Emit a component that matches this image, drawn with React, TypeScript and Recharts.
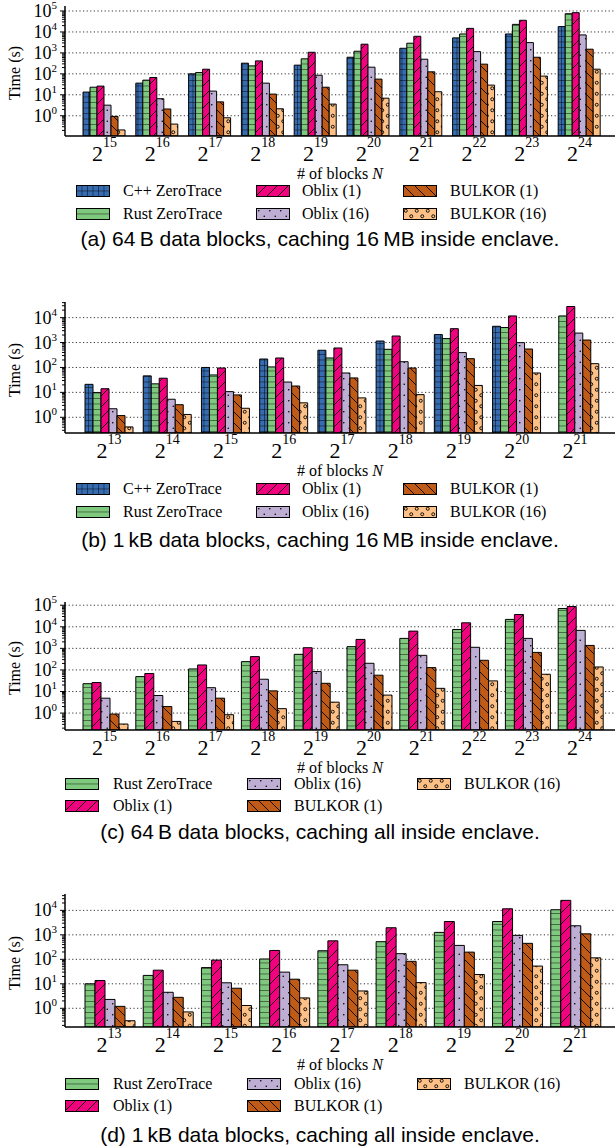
import React from 'react';
import { BarChart, Bar, XAxis, YAxis, CartesianGrid } from 'recharts';

const SERIF = '"Liberation Serif", "Times New Roman", serif';
const SANS = '"Liberation Sans", Arial, Helvetica, sans-serif';

// (a) 64 B blocks, 16 MB cache
const blocksA = [15, 16, 17, 18, 19, 20, 21, 22, 23, 24];
const cppA = [13.5, 36, 100, 323, 260, 620, 1660, 5200, 8000, 18000];
const rustA = [23, 50, 115, 240, 520, 1200, 2900, 8000, 23000, 74000];
const oblix1A = [26, 67, 166, 415, 1070, 2600, 6200, 14800, 36000, 83000];
const oblix16A = [3.2, 6.5, 15, 36, 86, 208, 500, 1150, 3100, 7200];
const bulkor1A = [0.93, 2.1, 4.6, 10.8, 23, 56, 125, 290, 620, 1500];
const bulkor16A = [0.21, 0.4, 0.8, 2.15, 3.6, 6.9, 14, 29, 78, 167];

// (b) 1 kB blocks, 16 MB cache
const blocksB = [13, 14, 15, 16, 17, 18, 19, 20, 21];
const cppB = [21, 46, 100, 218, 490, 1150, 2090, 4500, null];
const rustB = [9.8, 22, 50, 105, 240, 535, 1440, 4000, 11700];
const oblix1B = [14, 37, 95, 240, 605, 1830, 3600, 11700, 28000];
const oblix16B = [2.2, 5.3, 10.7, 26, 60, 170, 395, 990, 2400];
const bulkor1B = [1.17, 3.2, 7.9, 18, 38, 95, 225, 550, 1260];
const bulkor16B = [0.41, 1.3, 2.3, 3.8, 6.0, 8.1, 19, 60, 142];

// (c) 64 B blocks, all cached
const blocksC = [15, 16, 17, 18, 19, 20, 21, 22, 23, 24];
const rustC = [23, 49, 111, 242, 530, 1200, 2900, 7500, 22000, 70000];
const oblix1C = [26, 68, 170, 415, 1070, 2600, 6300, 15300, 37000, 87000];
const oblix16C = [4.9, 6.5, 15, 37, 84, 203, 475, 1120, 2900, 6800];
const bulkor1C = [0.9, 2.0, 4.9, 10.7, 24, 57, 128, 280, 650, 1370];
const bulkor16C = [0.31, 0.41, 0.84, 1.6, 3.2, 6.8, 14, 31, 63, 137];

// (d) 1 kB blocks, all cached
const blocksD = [13, 14, 15, 16, 17, 18, 19, 20, 21];
const rustD = [10, 22, 46, 103, 224, 525, 1260, 3500, 10600];
const oblix1D = [13.6, 36, 93, 230, 570, 1950, 3500, 11600, 25600];
const oblix16D = [2.3, 4.5, 11, 30, 60, 170, 370, 950, 2350];
const bulkor1D = [1.2, 2.8, 6.6, 15.4, 36, 83, 197, 450, 1100];
const bulkor16D = [0.31, 0.71, 1.3, 2.65, 5.1, 11.2, 24, 53, 115];

const majorsBig = [0, 1, 2, 3, 4, 5];
const majorsSmall = [0, 1, 2, 3, 4];

const NAMES: Record<string, string> = {
    cpp: 'C++ ZeroTrace',
    rust: 'Rust ZeroTrace',
    oblix1: 'Oblix (1)',
    oblix16: 'Oblix (16)',
    bulkor1: 'BULKOR (1)',
    bulkor16: 'BULKOR (16)',
};

const toRows = (blocks: number[], cols: Record<string, (number | null)[]>) =>
    blocks.map((n, i) => {
        const row: any = { n };
        Object.keys(cols).forEach(k => { row[k] = cols[k][i]; });
        return row;
    });

// log ticks: majors plus 2..9 minors that fall inside the domain
const logTicks = (domain: number[], majors: number[]) => {
    const out: number[] = [];
    for (let e = majors[0] - 1; e <= majors[majors.length - 1]; e++) {
        for (let m = 1; m <= 9; m++) {
            const v = m * Math.pow(10, e);
            if (v >= domain[0] && v <= domain[1]) out.push(v);
        }
    }
    return out;
};

const Patterns = () => (
    <svg width="0" height="0" style={{ position: 'absolute' }}>
        <defs>
            <pattern id="hatch-cpp" patternUnits="userSpaceOnUse" width="5.5" height="5.5">
                <rect width="5.5" height="5.5" fill="#386cb0" />
                <path d="M0,0 V5.5 M0,0 H5.5" stroke="#000" strokeWidth="0.9" />
            </pattern>
            <pattern id="hatch-rust" patternUnits="userSpaceOnUse" width="5.5" height="5.5">
                <rect width="5.5" height="5.5" fill="#7fc97f" />
                <path d="M0,0 H5.5" stroke="#000" strokeWidth="0.9" />
            </pattern>
            <pattern id="hatch-oblix1" patternUnits="userSpaceOnUse" width="11" height="11">
                <rect width="11" height="11" fill="#f0027f" />
                <path d="M0,11 L11,0 M-1,1 L1,-1 M10,12 L12,10" stroke="#000" strokeWidth="0.9" />
            </pattern>
            <pattern id="hatch-oblix16" patternUnits="userSpaceOnUse" width="11" height="11">
                <rect width="11" height="11" fill="#beaed4" />
                <circle cx="2.75" cy="2.75" r="0.8" fill="#000" />
                <circle cx="8.25" cy="8.25" r="0.8" fill="#000" />
            </pattern>
            <pattern id="hatch-bulkor1" patternUnits="userSpaceOnUse" width="11" height="11">
                <rect width="11" height="11" fill="#bf5b17" />
                <path d="M0,0 L11,11 M-1,10 L1,12 M10,-1 L12,1" stroke="#000" strokeWidth="0.9" />
            </pattern>
            <pattern id="hatch-bulkor16" patternUnits="userSpaceOnUse" width="11" height="11">
                <rect width="11" height="11" fill="#fdc086" />
                <circle cx="2.75" cy="2.75" r="1.5" fill="none" stroke="#000" strokeWidth="0.9" />
                <circle cx="8.25" cy="8.25" r="1.5" fill="none" stroke="#000" strokeWidth="0.9" />
            </pattern>
        </defs>
    </svg>
);

const YTick = (props: any) => {
    const { x, y, payload } = props;
    const e = Math.log10(payload.value);
    const major = Math.abs(e - Math.round(e)) < 1e-6;
    return (
        <g>
            <line x1={x - (major ? 5 : 3)} x2={x} y1={y} y2={y} stroke="#000" strokeWidth={1} />
            {major && (
                <text x={x - 8} y={y + 6} textAnchor="end" fontFamily={SERIF} fontSize={18} fill="#000">
                    10<tspan fontSize={11} dy={-8}>{Math.round(e)}</tspan>
                </text>
            )}
        </g>
    );
};

const XTick = (props: any) => {
    const { x, y, payload } = props;
    return (
        <text x={x} y={y + 25} textAnchor="middle" fontFamily={SERIF} fontSize={22} fill="#000">
            2<tspan fontSize={14} dy={-14}>{payload.value}</tspan>
        </text>
    );
};

const abs = (left: number, top: number, extra: React.CSSProperties = {}): React.CSSProperties => ({
    position: 'absolute', left, top, whiteSpace: 'nowrap', lineHeight: 1, ...extra,
});

interface PanelProps {
    plotTop: number;
    plotBottom: number;
    rows: any[];
    keys: string[];
    domain: number[];
    majors: number[];
    padding: { left: number; right: number };
    legendCols: string[][];
    swatchX: number[];
    textX: number[];
    legendY: number[];
    caption: string;
    captionY: number;
}

const TOP_PAD = 14;

const Panel: React.FC<PanelProps> = (p) => {
    const height = p.plotBottom - p.plotTop + TOP_PAD + 40;
    const majorVals = p.majors.map(e => Math.pow(10, e));
    return (
        <>
            <div style={abs(0, p.plotTop - TOP_PAD)}>
                <BarChart width={615} height={height} data={p.rows}
                    margin={{ top: TOP_PAD, right: 0, left: 0, bottom: 0 }}
                    barCategoryGap={5} barGap={0}>
                    <CartesianGrid vertical={false} horizontalValues={majorVals}
                        stroke="#333" strokeDasharray="1.2 2.4" />
                    <XAxis dataKey="n" type="category" height={40} padding={p.padding}
                        tickLine={false} tickSize={0} tickMargin={0} interval={0}
                        axisLine={{ stroke: '#000', strokeWidth: 1.5 }} tick={<XTick />} />
                    <YAxis scale="log" type="number" domain={p.domain} allowDataOverflow width={65}
                        ticks={logTicks(p.domain, p.majors)} interval={0}
                        tickLine={false} tickSize={0} tickMargin={0}
                        axisLine={{ stroke: '#000', strokeWidth: 1.5 }} tick={<YTick />} />
                    {p.keys.map(k => (
                        <Bar key={k} dataKey={k} name={NAMES[k]} fill={`url(#hatch-${k})`}
                            stroke="#000" strokeWidth={1} isAnimationActive={false} />
                    ))}
                </BarChart>
            </div>
            <div style={abs(15, (p.plotTop + p.plotBottom) / 2 + 2, {
                transform: 'translate(-50%, -50%) rotate(-90deg)', fontFamily: SERIF, fontSize: 16,
            })}>Time (s)</div>
            <div style={abs(340, p.plotBottom + 38, {
                transform: 'translate(-50%, -50%)', fontFamily: SERIF, fontSize: 16,
            })}># of blocks <i>N</i></div>
            {p.legendCols.map((col, ci) => col.map((k, ri) => (
                <React.Fragment key={k}>
                    <svg width={34} height={12} style={abs(p.swatchX[ci], p.legendY[ri] - 6)}>
                        <rect x={0.5} y={0.5} width={33} height={11} fill={`url(#hatch-${k})`}
                            stroke="#000" strokeWidth={1} />
                    </svg>
                    <div style={abs(p.textX[ci], p.legendY[ri], {
                        transform: 'translateY(-50%)', fontFamily: SERIF, fontSize: 16,
                    })}>{NAMES[k]}</div>
                </React.Fragment>
            )))}
            <div style={abs(320, p.captionY, {
                transform: 'translate(-50%, -50%)', fontFamily: SANS, fontSize: 21,
            })}>{p.caption}</div>
        </>
    );
};

const keys6 = ['cpp', 'rust', 'oblix1', 'oblix16', 'bulkor1', 'bulkor16'];
const keys5 = ['rust', 'oblix1', 'oblix16', 'bulkor1', 'bulkor16'];
const cols6 = [['cpp', 'rust'], ['oblix1', 'oblix16'], ['bulkor1', 'bulkor16']];
const cols5 = [['rust', 'oblix1'], ['oblix16', 'bulkor1'], ['bulkor16']];

export default function App() {
    const rowsA = toRows(blocksA, { cpp: cppA, rust: rustA, oblix1: oblix1A, oblix16: oblix16A, bulkor1: bulkor1A, bulkor16: bulkor16A });
    const rowsB = toRows(blocksB, { cpp: cppB, rust: rustB, oblix1: oblix1B, oblix16: oblix16B, bulkor1: bulkor1B, bulkor16: bulkor16B });
    const rowsC = toRows(blocksC, { rust: rustC, oblix1: oblix1C, oblix16: oblix16C, bulkor1: bulkor1C, bulkor16: bulkor16C });
    const rowsD = toRows(blocksD, { rust: rustD, oblix1: oblix1D, oblix16: oblix16D, bulkor1: bulkor1D, bulkor16: bulkor16D });
    const padWide = { left: 13, right: 9 };
    const padNarrow = { left: 15, right: 11 };
    return (
        <div style={{ position: 'absolute', left: 0, top: 0, width: 615, height: 1148, background: '#fff', color: '#000', overflow: 'hidden' }}>
            <Patterns />
            <Panel plotTop={6} plotBottom={136} rows={rowsA} keys={keys6} domain={[0.108, 173000]} majors={majorsBig}
                padding={padWide} legendCols={cols6} swatchX={[76, 256, 403]} textX={[123, 302, 450]}
                legendY={[191, 214]} caption={'(a) 64\u2009B data blocks, caching 16\u2009MB inside enclave.'} captionY={238} />
            <Panel plotTop={302} plotBottom={433} rows={rowsB} keys={keys6} domain={[0.234, 42400]} majors={majorsSmall}
                padding={padNarrow} legendCols={cols6} swatchX={[76, 256, 403]} textX={[123, 302, 450]}
                legendY={[489, 512]} caption={'(b) 1\u2009kB data blocks, caching 16\u2009MB inside enclave.'} captionY={539} />
            <Panel plotTop={602} plotBottom={730} rows={rowsC} keys={keys5} domain={[0.164, 141000]} majors={majorsBig}
                padding={padWide} legendCols={cols5} swatchX={[65, 247, 417]} textX={[113, 294, 464]}
                legendY={[784, 806]} caption={'(c) 64\u2009B data blocks, caching all inside enclave.'} captionY={831} />
            <Panel plotTop={894} plotBottom={1027} rows={rowsD} keys={keys5} domain={[0.172, 46600]} majors={majorsSmall}
                padding={padNarrow} legendCols={cols5} swatchX={[65, 247, 417]} textX={[113, 294, 464]}
                legendY={[1084, 1106]} caption={'(d) 1\u2009kB data blocks, caching all inside enclave.'} captionY={1134} />
        </div>
    );
}
